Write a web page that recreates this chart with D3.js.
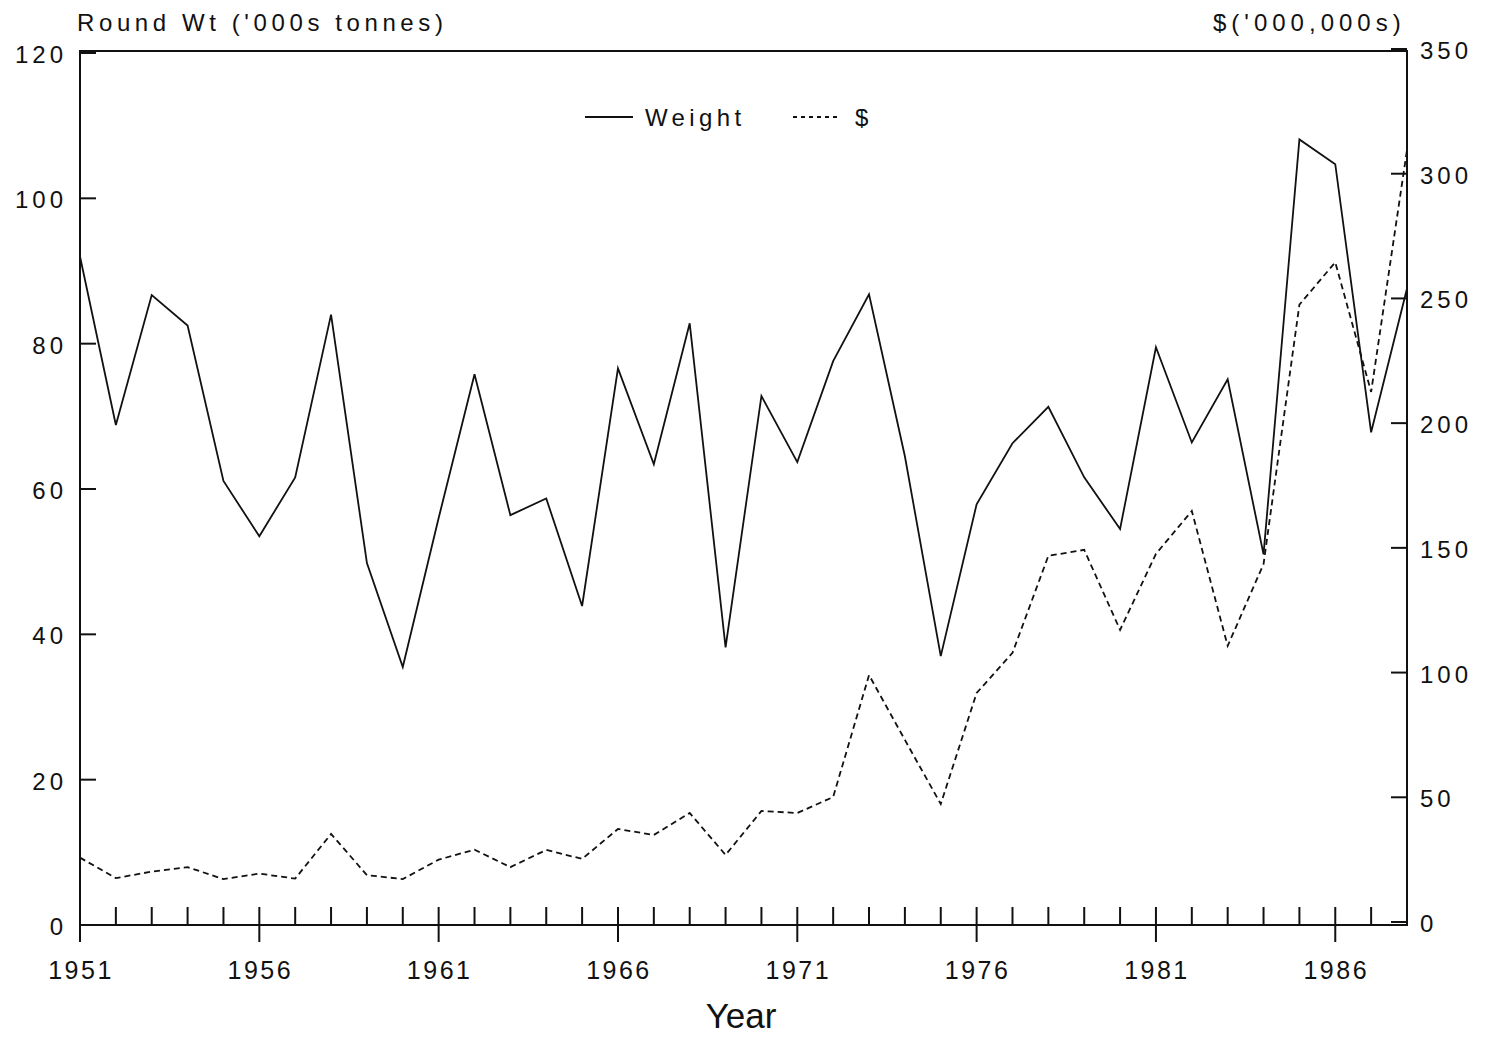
<!DOCTYPE html>
<html>
<head>
<meta charset="utf-8">
<script src="https://cdn.jsdelivr.net/npm/d3@7"></script>
<style>
  body { margin: 0; background: #fff; }
  text { font-family: "Liberation Sans", Arial, sans-serif; fill: #111; }
</style>
</head>
<body>
<div id="chart"></div>
<script>
// years on the x axis
const years = d3.range(1951, 1989);
// round weight, '000s tonnes (left axis)
const weight = [92, 68.8, 86.7, 82.5, 61.1, 53.5, 61.6, 84, 49.8, 35.5,
  56, 75.8, 56.4, 58.7, 43.9, 76.6, 63.4, 82.8, 38.2, 72.8,
  63.7, 77.6, 86.8, 64.5, 37, 57.9, 66.3, 71.3, 61.6, 54.5,
  79.5, 66.4, 75.1, 51, 108.1, 104.7, 67.8, 87.6];
// value, $'000,000s (right axis)
const dollars = [25.8, 17.6, 20.2, 22, 17.2, 19.4, 17.4, 35.3, 18.8, 17.2,
  25, 29, 22, 28.9, 25.3, 37.3, 34.9, 43.7, 26.9, 44.5,
  43.7, 50.1, 99, 73, 47.3, 91.8, 107.9, 146.8, 149.2, 117.1,
  147.6, 164.8, 110.7, 143.5, 247.5, 264.5, 212.5, 309.5];
const leftTicks = [0, 20, 40, 60, 80, 100, 120];
const rightTicks = [0, 50, 100, 150, 200, 250, 300, 350];
const majorYears = [1951, 1956, 1961, 1966, 1971, 1976, 1981, 1986];

const W = 1487, H = 1039;
const x0 = 80, x1 = 1407, yTop = 51, yBot = 925;

const svg = d3.select('#chart').append('svg')
  .attr('width', W).attr('height', H);

const x = d3.scaleLinear().domain([1951, 1988]).range([x0, x1]);
const yL = d3.scaleLinear().domain([0, 120]).range([yBot, yTop + 2]);
const yR = d3.scaleLinear().domain([0, 350]).range([yBot - 3, yTop - 2]);

// frame
svg.append('rect')
  .attr('x', x0).attr('y', yTop)
  .attr('width', x1 - x0).attr('height', yBot - yTop)
  .attr('fill', 'none').attr('stroke', '#111').attr('stroke-width', 2);

// left axis ticks (inward) + labels
leftTicks.forEach(v => {
  svg.append('line')
    .attr('x1', x0).attr('x2', x0 + 16)
    .attr('y1', yL(v)).attr('y2', yL(v))
    .attr('stroke', '#111').attr('stroke-width', 2);
  svg.append('text')
    .attr('x', 67).attr('y', yL(v) + 10)
    .attr('text-anchor', 'end')
    .attr('font-size', 24).attr('letter-spacing', 4)
    .text(v);
});

// right axis ticks (inward) + labels
rightTicks.forEach(v => {
  svg.append('line')
    .attr('x1', x1 - 16).attr('x2', x1)
    .attr('y1', yR(v)).attr('y2', yR(v))
    .attr('stroke', '#111').attr('stroke-width', 2);
  svg.append('text')
    .attr('x', 1420).attr('y', yR(v) + 10)
    .attr('font-size', 24).attr('letter-spacing', 4)
    .text(v);
});

// x ticks: minor go up, major cross the axis
years.forEach(yr => {
  const major = majorYears.includes(yr);
  svg.append('line')
    .attr('x1', x(yr)).attr('x2', x(yr))
    .attr('y1', yBot - 18).attr('y2', major ? yBot + 17 : yBot)
    .attr('stroke', '#111').attr('stroke-width', 2);
});
majorYears.forEach(yr => {
  svg.append('text')
    .attr('x', x(yr) + 1).attr('y', 979)
    .attr('text-anchor', 'middle')
    .attr('font-size', 25).attr('letter-spacing', 2.5)
    .text(yr);
});

// axis titles
svg.append('text')
  .attr('x', 77).attr('y', 31)
  .attr('font-size', 24).attr('letter-spacing', 4.6)
  .text("Round Wt ('000s tonnes)");
svg.append('text')
  .attr('x', 1213).attr('y', 31)
  .attr('font-size', 24).attr('letter-spacing', 5)
  .text("$('000,000s)");
svg.append('text')
  .attr('x', 741).attr('y', 1028)
  .attr('text-anchor', 'middle')
  .attr('font-size', 35)
  .text('Year');

// series
const lineW = d3.line().x((d, i) => x(years[i])).y(d => yL(d));
const lineD = d3.line().x((d, i) => x(years[i])).y(d => yR(d));

svg.append('path').datum(dollars)
  .attr('d', lineD)
  .attr('fill', 'none').attr('stroke', '#111')
  .attr('stroke-width', 1.8).attr('stroke-dasharray', '6,4');

svg.append('path').datum(weight)
  .attr('d', lineW)
  .attr('fill', 'none').attr('stroke', '#111')
  .attr('stroke-width', 1.8).attr('stroke-linejoin', 'miter');

// legend
const lg = svg.append('g');
lg.append('line')
  .attr('x1', 585).attr('x2', 633).attr('y1', 117).attr('y2', 117)
  .attr('stroke', '#111').attr('stroke-width', 1.8);
lg.append('text')
  .attr('x', 645).attr('y', 126)
  .attr('font-size', 24).attr('letter-spacing', 4.4)
  .text('Weight');
lg.append('line')
  .attr('x1', 793).attr('x2', 840).attr('y1', 117).attr('y2', 117)
  .attr('stroke', '#111').attr('stroke-width', 1.8)
  .attr('stroke-dasharray', '4,4');
lg.append('text')
  .attr('x', 855).attr('y', 126)
  .attr('font-size', 24)
  .text('$');
</script>
</body>
</html>
